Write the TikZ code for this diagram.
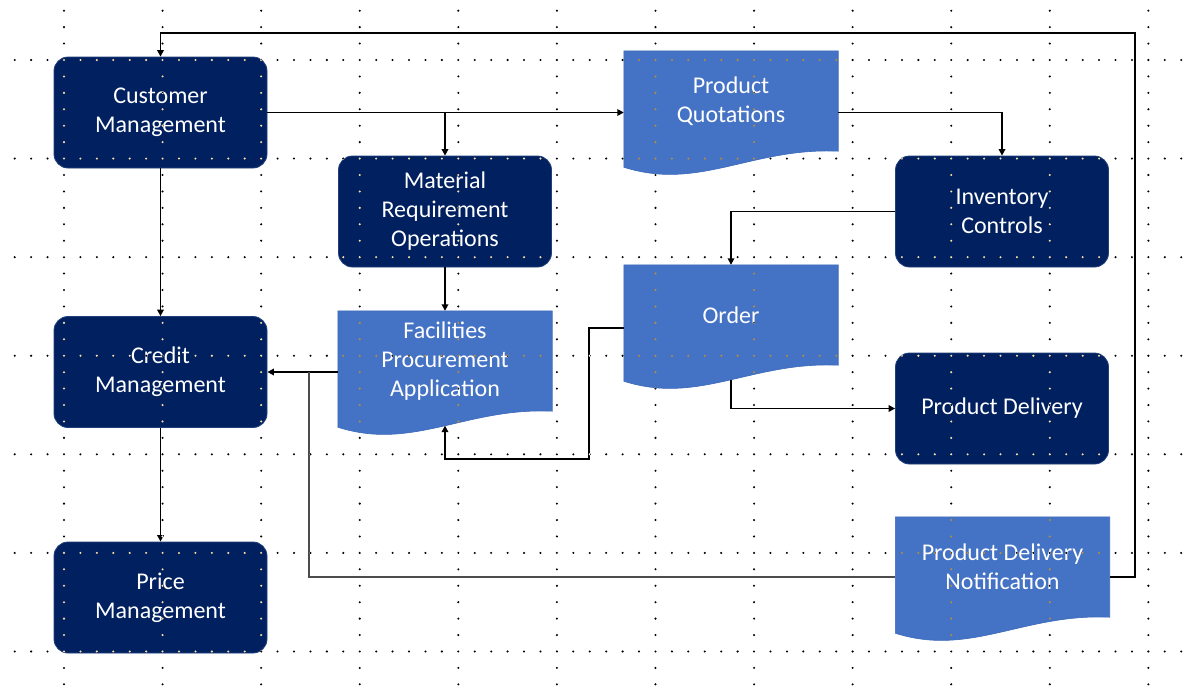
\documentclass[tikz,border=0pt]{standalone}
\usepackage{fontspec}
\setmainfont{Carlito}
\usetikzlibrary{arrows.meta,calc}
\pgfdeclarelayer{background}
\pgfdeclarelayer{foreground}
\pgfsetlayers{background,main,foreground}
\definecolor{navy}{HTML}{012060}
\definecolor{navyrim}{HTML}{21407A}
\definecolor{docblue}{HTML}{4472C4}
\definecolor{docrim}{HTML}{3A68BA}
\newcommand\mydocpath[1]{(#1.north west) -- (#1.north east) -- (#1.south east)
  .. controls ($(#1.south west)+(128.4,-4)$) and ($(#1.south west)+(74.9,40)$) .. ($(#1.south west)+(0,16)$) -- cycle}
\tikzset{
  lbl/.style={text=white, align=center, font=\fontsize{24}{29}\selectfont},
  proc/.style={lbl, rounded corners=14pt, fill=navy, draw=navyrim, line width=0.8pt,
    minimum width=213pt, minimum height=111pt, inner sep=0pt},
  docbox/.style={lbl, minimum width=214pt, minimum height=100pt, inner sep=0pt},
  docshape/.style={fill=docblue, draw=docrim, line width=0.6pt},
  conn/.style={draw=black, line width=1.9pt, -{Triangle[length=6.5pt,width=6.5pt]}},
  feed/.style={draw=black!70, line width=2.6pt},
}
\begin{document}
\begin{tikzpicture}[x=1pt,y=-1pt]
\useasboundingbox (0,0) rectangle (1184,691);
\begin{pgfonlayer}{background}
  \fill[white] (0,0) rectangle (1184,691);
\end{pgfonlayer}

% process boxes
\node[proc] (cm)  at (160.5,112.5) {Customer\\Management};
\node[proc] (mro) at (445,211.5)   {Material\\Requirement\\Operations};
\node[proc] (ic)  at (1002,211.5)  {Inventory\\Controls};
\node[proc] (cr)  at (160.5,372)   {Credit\\Management};
\node[proc] (pd)  at (1002,408.5)  {Product Delivery};
\node[proc] (pm)  at (160.5,597.5) {Price\\Management};

% document boxes
\node[docbox] (pq)  at (731,101)    {Product\\Quotations};
\node[docbox] (od)  at (731,315)    {Order};
\node[docbox] (fpa) at (445,361)    {Facilities\\Procurement\\Application};
\node[docbox] (pdn) at (1002.5,567) {Product Delivery\\Notification};

\begin{pgfonlayer}{background}
  \foreach \d in {pq,od,fpa,pdn} { \path[docshape] \mydocpath{\d}; }
\end{pgfonlayer}

\coordinate (fpab) at ($(fpa.center)+(0,64.6)$);
\coordinate (odb)  at ($(od.center)+(0,64.6)$);
\coordinate (j1)   at ($(cr.east)+(41.5,0)$);

% connectors
\draw[conn] (cm.east) -- (cm.east -| pq.west);
\draw[conn] (cm.east -| mro.north) -- (mro.north);
\draw[conn] (cm.south) -- (cr.north);
\draw[conn] (cr.south) -- (pm.north);
\draw[conn] (mro.south) -- (fpa.north);
\draw[conn] (cm.east -| pq.east) -| (ic.north);
\draw[conn] (ic.west) -| (od.north);
\draw[conn] ($(od.west)+(0,13)$) -- ++(-35,0) -- ++(0,131) -| (fpab);
\draw[conn] (odb) |- (pd.west);
\draw[conn] (fpa.west |- cr.east) -- (cr.east);
\draw[feed] ($(pdn.west)+(0,10)$) -| (j1);
\draw[conn] ($(pdn.east)+(0,10)$) -- ++(25,0) |- ($(cm.north)+(0,-24)$) -- (cm.north);

% dotted grid, inverted over everything
\begin{pgfonlayer}{foreground}
\begin{scope}[blend mode=difference]
\fill[white]
  \foreach \r in {0,...,6} { \foreach \j in {0,...,71} { ({14.7+16.43*\j},{60+98.58*\r}) circle[radius=1.15pt] } }
  \foreach \c in {0,...,11} { \foreach \j in {0,...,41} { ({64+98.58*\c},{10.7+16.43*\j}) circle[radius=1.15pt] } };
\end{scope}
\end{pgfonlayer}
\end{tikzpicture}
\end{document}
